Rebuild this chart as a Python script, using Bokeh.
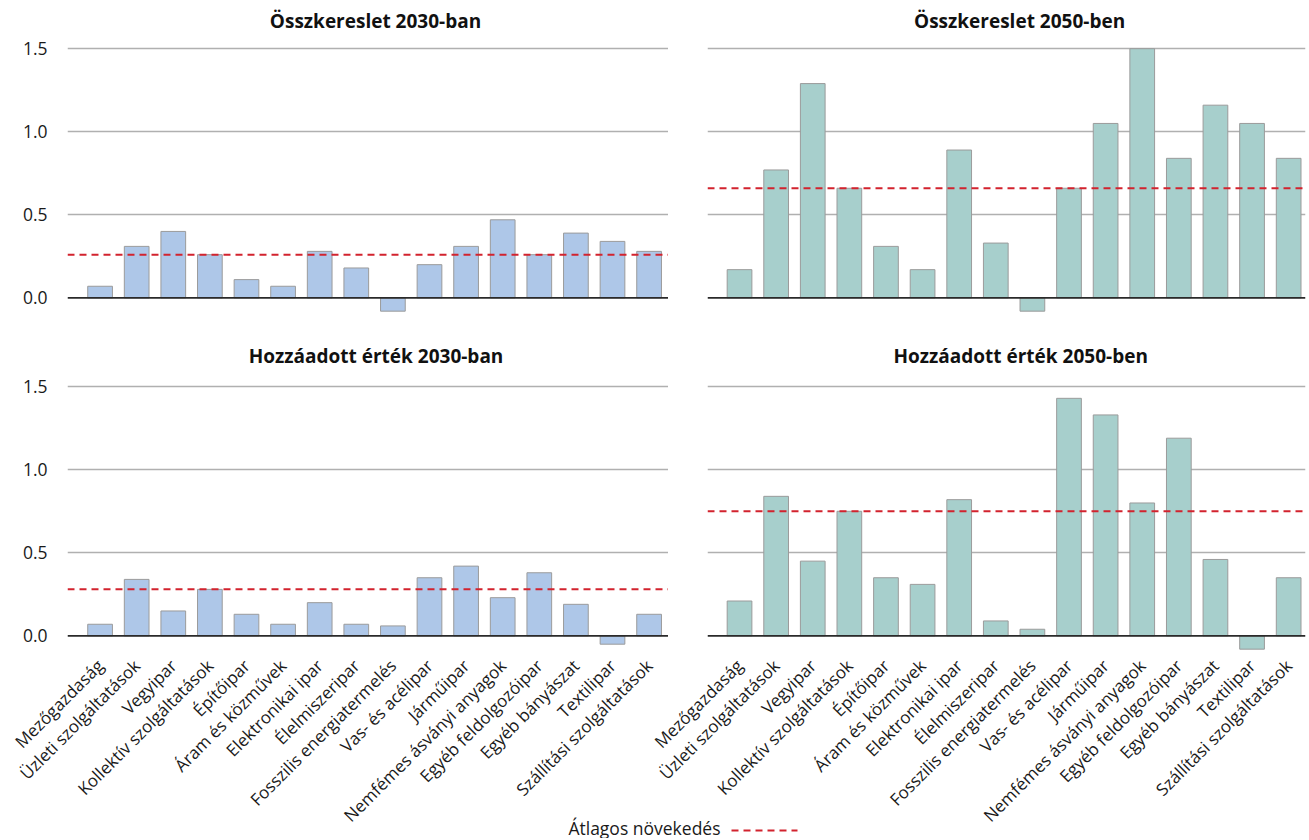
import math
from bokeh.plotting import figure
from bokeh.layouts import column, row
from bokeh.models import Range1d, FixedTicker, Span, Label, NumeralTickFormatter
from bokeh.embed import file_html
from bokeh.resources import INLINE

categories = ["Mezőgazdaság", "Üzleti szolgáltatások", "Vegyipar", "Kollektív szolgáltatások",
              "Építőipar", "Áram és közművek", "Elektronikai ipar", "Élelmiszeripar",
              "Fosszilis energiatermelés", "Vas- és acélipar", "Járműipar",
              "Nemfémes ásványi anyagok", "Egyéb feldolgozóipar", "Egyéb bányászat",
              "Textilipar", "Szállítási szolgáltatások"]

demand_2030 = [0.07, 0.31, 0.40, 0.26, 0.11, 0.07, 0.28, 0.18, -0.08, 0.20, 0.31, 0.47, 0.26, 0.39, 0.34, 0.28]
demand_2050 = [0.17, 0.77, 1.29, 0.66, 0.31, 0.17, 0.89, 0.33, -0.08, 0.66, 1.05, 1.50, 0.84, 1.16, 1.05, 0.84]
value_added_2030 = [0.07, 0.34, 0.15, 0.28, 0.13, 0.07, 0.20, 0.07, 0.06, 0.35, 0.42, 0.23, 0.38, 0.19, -0.05, 0.13]
value_added_2050 = [0.21, 0.84, 0.45, 0.75, 0.35, 0.31, 0.82, 0.09, 0.04, 1.43, 1.33, 0.80, 1.19, 0.46, -0.08, 0.35]

average_growth = [0.26, 0.66, 0.28, 0.75]
titles = ["Összkereslet 2030-ban", "Összkereslet 2050-ben",
          "Hozzáadott érték 2030-ban", "Hozzáadott érték 2050-ben"]
y_ticks = [0.0, 0.5, 1.0, 1.5]
legend_label = "Átlagos növekedés"

FONT = "Open Sans"
BLUE = "#aec7e8"
TEAL = "#a7cfcc"
RED = "#d2232e"
xs = list(range(len(categories)))


def panel(title, vals, avg, color, left_side, bottom_row, title_x, extra_left=0):
    if left_side:
        width, b_left, xr = 668, 67, Range1d(-0.89, 15.53)
    else:
        width, b_left, xr = 639 + extra_left, 39 + extra_left, Range1d(-0.875, 15.46)
    if bottom_row:
        height, b_bottom = 500, 186
    else:
        height, b_bottom = 338, 24
    p = figure(width=width, height=height, x_range=xr, y_range=Range1d(-0.1, 1.76),
               output_backend="svg", toolbar_location=None,
               min_border_left=b_left, min_border_right=0 if left_side else 2,
               min_border_top=5, min_border_bottom=b_bottom)
    p.outline_line_color = None
    p.add_layout(Label(x=title_x, y=1.685 if bottom_row else 1.666, text=title,
                       text_align="center", text_baseline="middle", text_font=FONT,
                       text_font_style="bold", text_font_size="19px", text_color="#111111"))

    p.xgrid.visible = False
    p.ygrid.ticker = FixedTicker(ticks=y_ticks[1:])
    p.ygrid.grid_line_color = "#b0b0b0"
    p.ygrid.grid_line_width = 1.6

    p.vbar(x=xs, top=vals, width=0.675, fill_color=color, line_color="#9b9b9b", line_width=1)
    p.add_layout(Span(location=0, dimension="width", line_color="#2a2a2a", line_width=1.6))
    p.add_layout(Span(location=avg, dimension="width", line_color=RED, line_width=2,
                      line_dash="7 5"))

    if left_side:
        ax = p.yaxis[0]
        ax.ticker = FixedTicker(ticks=y_ticks)
        ax.formatter = NumeralTickFormatter(format="0.0")
        ax.axis_line_color = None
        ax.major_tick_line_color = None
        ax.minor_tick_line_color = None
        ax.major_label_text_font = FONT
        ax.major_label_text_font_size = "17.5px"
        ax.major_label_text_color = "#1a1a1a"
        ax.major_label_standoff = 14
    else:
        p.yaxis.visible = False

    if bottom_row:
        ax = p.xaxis[0]
        ax.ticker = FixedTicker(ticks=xs)
        ax.major_label_overrides = {i: c for i, c in zip(xs, categories)}
        ax.major_label_orientation = math.pi / 4
        ax.axis_line_color = None
        ax.major_tick_line_color = None
        ax.minor_tick_line_color = None
        ax.major_label_text_font = FONT
        ax.major_label_text_font_size = "17px"
        ax.major_label_text_color = "#1a1a1a"
        ax.major_label_standoff = 4
    else:
        p.xaxis.visible = False
    return p


tl = panel(titles[0], demand_2030, average_growth[0], BLUE, True, False, 7.525)
tr = panel(titles[1], demand_2050, average_growth[1], TEAL, False, False, 7.65)
bl = panel(titles[2], value_added_2030, average_growth[2], BLUE, True, True, 7.54)
br = panel(titles[3], value_added_2050, average_growth[3], TEAL, False, True, 7.68, extra_left=40)
br.border_fill_color = None
br.background_fill_color = None
br.margin = (0, 0, 0, -40)

leg = figure(width=1307, height=26, x_range=Range1d(0, 1307), y_range=Range1d(0, 26),
             output_backend="svg", toolbar_location=None, x_axis_type=None, y_axis_type=None,
             min_border=0, min_border_left=0, min_border_right=0, min_border_top=0,
             min_border_bottom=0)
leg.grid.visible = False
leg.outline_line_color = None
leg.background_fill_color = None
leg.border_fill_color = None
leg.add_layout(Label(x=720, y=11, x_units="screen", y_units="screen", text=legend_label,
                     text_align="right", text_baseline="middle", text_font=FONT,
                     text_font_size="17.5px", text_color="#1a1a1a"))
leg.line(x=[731, 797], y=[8, 8], line_color=RED, line_width=2, line_dash="7 5")
leg.margin = (-26, 0, 0, 0)

layout = column(row(tl, tr), row(bl, br), leg)

with open("out.html", "w") as f:
    f.write(file_html(layout, INLINE))
